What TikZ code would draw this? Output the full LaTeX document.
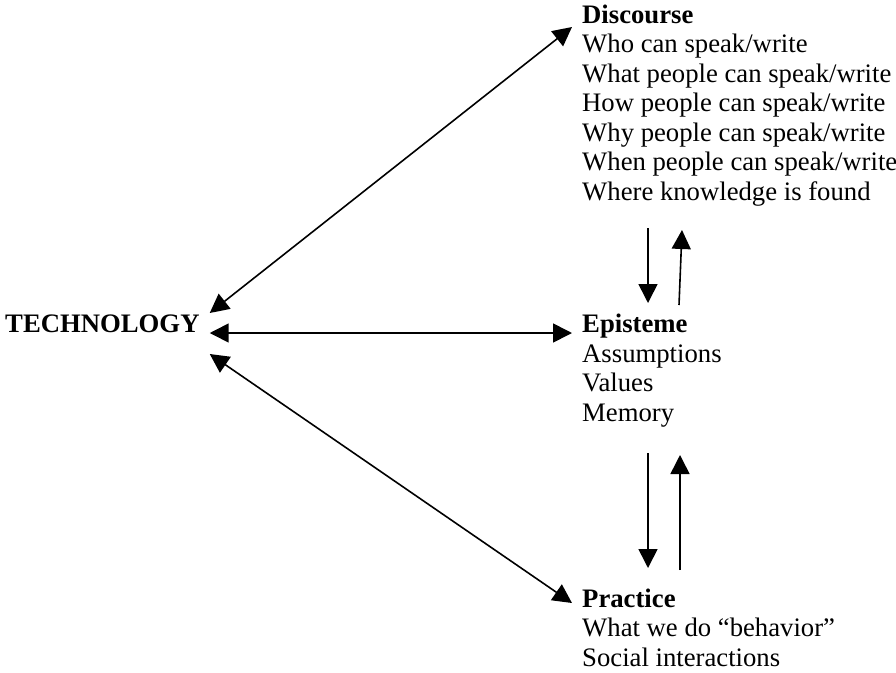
\documentclass[tikz,border=0pt]{standalone}
\usepackage{fontspec}
\setmainfont{Liberation Serif}
\usetikzlibrary{arrows.meta}

\begin{document}
\begin{tikzpicture}[x=1pt,y=-1pt,
        txt/.style={anchor=base west,inner sep=0pt,align=left,
            font=\fontsize{26.7}{29.5}\selectfont},
        link/.style={line width=1.6pt,
            {Triangle[length=19pt,width=19pt]}-{Triangle[length=19pt,width=19pt]}},
        oneway/.style={line width=1.6pt,-{Triangle[length=19pt,width=19pt]}}]
        \useasboundingbox (0,0) rectangle (896,672);
        % Draw the centre and the three blocks (placed by their last line)
        \node[txt] (tech) at (5,332) {\textbf{TECHNOLOGY}};
        \node[txt] (disc) at (582,200) {\textbf{Discourse}\\Who can speak/write\\What people can speak/write\\How people can speak/write\\Why people can speak/write\\When people can speak/write\\Where knowledge is found};
        \node[txt] (epis) at (582,421) {\textbf{Episteme}\\Assumptions\\Values\\Memory};
        \node[txt] (prac) at (582,666) {\textbf{Practice}\\What we do “behavior”\\Social interactions};
        % Arrows from technology to each block
        \draw[link] ([shift={(10pt,19pt)}]tech.base east) -- ([shift={(-10pt,173pt)}]disc.base west);
        \draw[link] ([shift={(10pt,-1pt)}]tech.base east) -- ([shift={(-10pt,88pt)}]epis.base west);
        \draw[link] ([shift={(10pt,-22pt)}]tech.base east) -- ([shift={(-10pt,63pt)}]prac.base west);
        % Arrows between the blocks
        \draw[oneway] ([shift={(66pt,-28pt)}]disc.base west) -- ([shift={(66pt,118pt)}]epis.base west);
        \draw[oneway] ([shift={(97pt,116pt)}]epis.base west) -- ([shift={(100pt,-30pt)}]disc.base west);
        \draw[oneway] ([shift={(66pt,-32pt)}]epis.base west) -- ([shift={(66pt,98pt)}]prac.base west);
        \draw[oneway] ([shift={(98pt,96pt)}]prac.base west) -- ([shift={(98pt,-34pt)}]epis.base west);
    \end{tikzpicture}
\end{document}
